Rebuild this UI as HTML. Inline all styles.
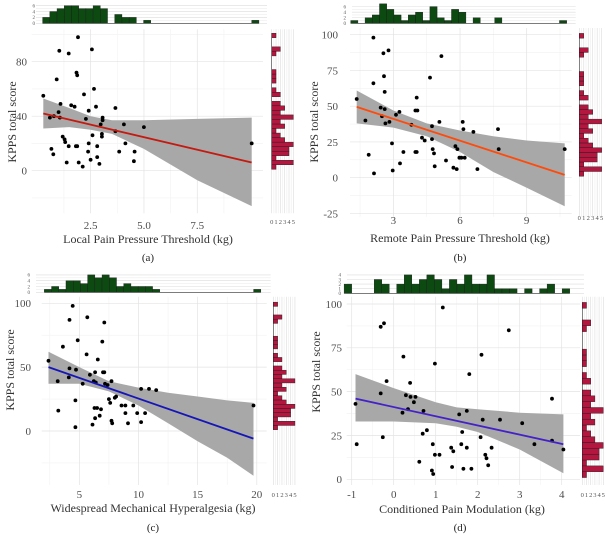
<!DOCTYPE html>
<html><head><meta charset="utf-8">
<style>
html,body{margin:0;padding:0;background:#fff;}
svg{display:block;font-family:"Liberation Serif",serif;}
</style></head>
<body>
<svg id="fig" width="606" height="535" viewBox="0 0 606 535"></svg>
<script>
// ---------- DATA ----------
// shared KPPS marginal histogram (bottom -> top), bins start 1, width 3.33
const kppsBinStart = 1;
const kppsBinWidth = 3.33;
const kppsCounts = [1,5,1,4,4,5,3,2,1,3,2,5,2,3,2,0,2,1,0,1,1,1,0,0,0,1,2,0,0,1];
const histCountTicks = ["0","1","2","3","4","5"];

// Panel a
const aX = [0.28,1.91,1.03,1.47,2.56,1.84,1.87,0.91,2.66,2.19,1.09,1.59,1.75,2.75,3.66,1.0,2.41,0.59,0.78,1.06,2.28,3.06,3.06,4.06,2.97,3.66,5.0,1.19,1.28,1.31,3.03,3.03,2.59,4.13,2.41,10.05,1.47,1.81,1.87,2.81,0.66,0.75,2.38,3.84,4.56,2.81,1.38,1.94,2.5,2.91,4.53,2.13];
const aY = [55,98,88,86,89,72,70,67,60,56,49,48,47,47,46,43,44,39,40,39,38,39,37,34,34,29,32,25,23,21,25,27,26,20,20,20,18,18,18,18,16,12,14,14,14,10,6,6,8,5,7,3];
const aLineX = [0.28,10.05];
const aLineY = [42,6];
const aBandX = [0.28,1.5,2.5,3.5,5,7.5,10.05];
const aBandLo = [31,32,30,27,16,-7,-26];
const aBandHi = [53,46,40,37,37,38,39];
const aHist = [2,4,5,6,6,5,5,6,5,0,3,2,2,0,1,0,0,0,0,0,0,0,0,0,0,0,0,0,0,1];
const aHistStart = 0.25, aHistWidth = 0.338;
const aXTicks = [2.5,5,7.5];
const aXTickLabels = ["2.5","5.0","7.5"];
const aYTicks = [0,40,80];
const aYTickLabels = ["0","40","80"];
const aHistTicks = [0,2,4,6];

// Panel b
const bX = [1.35,1.74,2.1,2.1,1.89,2.13,2.55,2.78,2.58,2.61,2.43,2.49,2.61,2.64,2.82,2.94,2.97,3.12,3.27,3.3,3.45,3.81,3.99,4.08,4.05,3.99,4.05,4.29,4.41,4.65,4.74,4.74,4.77,4.83,4.86,5.07,5.16,5.37,5.7,5.79,5.88,5.85,5.97,6.06,6.21,6.12,6.15,6.6,6.78,7.71,7.74,10.71];
const bY = [55,40,98,66,16,3,87,89,71,60,49,43,48,38,39,24,5,44,46,10,18,37,47,47,56,18,18,28,26,70,36,27,20,17,8,39,85,12,7,22,20,6,14,14,14,39,34,32,6,34,20,20];
const bLineX = [1.35,10.71];
const bLineY = [49.5,2];
const bBandX = [1.35,3,4.5,6,7.5,9,10.71];
const bBandLo = [38,35,29,18,4,-7,-20];
const bBandHi = [61,47,38,33,29,26,24];
const bHist = [1,0,2,3,7,5,3,1,3,4,1,6,2,1,5,4,0,2,0,0,2,0,0,0,0,0,0,0,0,1];
const bHistStart = 1.08, bHistWidth = 0.324;
const bXTicks = [3,6,9];
const bXTickLabels = ["3","6","9"];
const bYTicks = [-25,0,25,50,75,100];
const bYTickLabels = ["-25","0","25","50","75","100"];
const bHistTicks = [0,2,4,6];

// Panel c
const cX = [2.39,4.44,4.17,3.61,3.17,3.22,4.86,4.72,4.11,4.17,4.67,4.67,5.28,5.61,5.67,5.89,6.22,6.39,6.33,6.56,6.94,7.0,7.11,7.11,7.17,7.39,7.5,7.61,7.72,6.5,6.28,6.83,6.33,6.72,6.11,7.72,7.78,8.0,8.11,8.56,8.89,9.56,8.89,9.89,10.56,9.11,10.22,10.22,10.89,11.5,19.72];
const cY = [55,98,87,66,39,16,71,48,42,49,24,3,37,60,89,44,39,38,46,56,70,46,46,85,37,36,25,22,39,18,18,17,10,12,5,8,6,26,27,20,20,20,14,14,14,6,7,33,33,32,20];
const cLineX = [2.39,19.72];
const cLineY = [50,-6];
const cBandX = [2.39,5,7.5,10,12.5,15,17.5,19.72];
const cBandLo = [37,37,31,20,6,-8,-21,-35];
const cBandHi = [62,50,39,34,30,27,24,22];
const cHist = [1,2,1,4,4,3,6,5,6,5,2,3,2,2,2,1,0,0,0,0,0,0,0,0,0,0,0,0,0,1];
const cHistStart = 2.04, cHistWidth = 0.61;
const cXTicks = [5,10,15,20];
const cXTickLabels = ["5","10","15","20"];
const cYTicks = [0,50,100];
const cYTickLabels = ["0","50","100"];
const cHistTicks = [0,2,4,6];

// Panel d
const dX = [-0.91,-0.88,-0.31,-0.23,-0.31,-0.26,-0.17,0.23,0.21,0.29,0.34,0.39,0.40,0.48,0.52,0.61,0.71,0.69,0.79,0.98,0.93,0.91,0.94,0.98,1.09,1.17,1.37,1.42,1.39,1.56,1.63,1.61,1.74,1.74,1.66,1.8,1.85,2.07,2.09,2.12,2.18,2.21,2.25,2.33,2.53,2.74,3.06,3.35,3.77,3.77,4.04];
const dY = [43,20,87,89,49,24,56,70,38,48,40,55,47,44,47,10,39,26,28,66,20,5,3,14,14,98,18,16,7,37,27,20,39,18,6,60,6,24,71,34,14,12,8,18,34,85,32,20,46,22,17];
const dLineX = [-0.91,4.04];
const dLineY = [46,20];
const dBandX = [-0.91,0,1,1.5,2,3,4.04];
const dBandLo = [33,33,32,30,27,17,3.5];
const dBandHi = [60,52,44,41,40,38,37];
const dHist = [2,0,0,0,3,2,0,2,4,2,3,4,3,1,3,2,4,2,2,4,1,1,1,0,1,0,1,2,0,1];
const dHistStart = -1.18, dHistWidth = 0.179;
const dXTicks = [-1,0,1,2,3,4];
const dXTickLabels = ["-1","0","1","2","3","4"];
const dYTicks = [0,25,50,75,100];
const dYTickLabels = ["0","25","50","75","100"];
const dHistTicks = [0,1,2,3,4];

// ---------- LAYOUT (geometry only) ----------
const NS = "http://www.w3.org/2000/svg";
const svg = document.getElementById('fig');
function mk(tag, attrs, parent){
  const e = document.createElementNS(NS, tag);
  for (const k in attrs) e.setAttribute(k, attrs[k]);
  (parent||svg).appendChild(e);
  return e;
}

const panels = [
 {id:'a', X:aX,Y:aY,lx:aLineX,ly:aLineY,bx:aBandX,blo:aBandLo,bhi:aBandHi,hist:aHist,hs:aHistStart,hw:aHistWidth,
  xt:aXTicks,xtl:aXTickLabels,yt:aYTicks,ytl:aYTickLabels,ht:aHistTicks,
  xo:37.3,xu:21.33,yo:170.7,yu:1.3625,L:31.7,R:263,T:29.3,B:213.3,
  hBase:23.3,hUnit:2.94,hL:32,rBase:271.7,rUnit:4.33,rR:297,
  color:'#c41a10', yLabX:27, xLabY:229, yTitleX:12, yTitleY:122, xTitle:'Local Pain Pressure Threshold (kg)', xTitleX:148, xTitleY:243, cap:'(a)', capY:261, capX:148, hLabX:35, rLabY:224},
 {id:'b', X:bX,Y:bY,lx:bLineX,ly:bLineY,bx:bBandX,blo:bBandLo,bhi:bBandHi,hist:bHist,hs:bHistStart,hw:bHistWidth,
  xt:bXTicks,xtl:bXTickLabels,yt:bYTicks,ytl:bYTickLabels,ht:bHistTicks,
  xo:326.7,xu:22.22,yo:177.7,yu:1.43,L:350,R:571.7,T:28,B:216.7,
  hBase:23.3,hUnit:2.78,hL:348,rBase:579.3,rUnit:4.47,rR:604,
  color:'#ff4a0a', yLabX:338, xLabY:224, yTitleX:314, yTitleY:122, xTitle:'Remote Pain Pressure Threshold (kg)', xTitleX:460, xTitleY:242, cap:'(b)', capY:261, capX:460, hLabX:346, rLabY:220},
 {id:'c', X:cX,Y:cY,lx:cLineX,ly:cLineY,bx:cBandX,blo:cBandLo,bhi:cBandHi,hist:cHist,hs:cHistStart,hw:cHistWidth,
  xt:cXTicks,xtl:cXTickLabels,yt:cYTicks,ytl:cYTickLabels,ht:cHistTicks,
  xo:20.2,xu:11.83,yo:431,yu:1.277,L:41.7,R:266.7,T:296.7,B:485,
  hBase:292.3,hUnit:2.9,hL:32,rBase:273.3,rUnit:4.33,rR:298,
  color:'#1616b8', yLabX:31, xLabY:498, yTitleX:10, yTitleY:370, xTitle:'Widespread Mechanical Hyperalgesia (kg)', xTitleX:153, xTitleY:512, cap:'(c)', capY:531, capX:153, hLabX:30, rLabY:497},
 {id:'d', X:dX,Y:dY,lx:dLineX,ly:dLineY,bx:dBandX,blo:dBandLo,bhi:dBandHi,hist:dHist,hs:dHistStart,hw:dHistWidth,
  xt:dXTicks,xtl:dXTickLabels,yt:dYTicks,ytl:dYTickLabels,ht:dHistTicks,
  xo:393.7,xu:42,yo:479.3,yu:1.753,L:346.7,R:580,T:296.7,B:485,
  hBase:293.3,hUnit:4.6,hL:343,rBase:582.3,rUnit:4.2,rR:606,
  color:'#4322c8', yLabX:342, xLabY:498, yTitleX:316, yTitleY:372, xTitle:'Conditioned Pain Modulation (kg)', xTitleX:462, xTitleY:513, cap:'(d)', capY:531, capX:460, hLabX:341, rLabY:497}
];

panels.forEach(p => {
  const sx = v => p.xo + v*p.xu;
  const sy = v => p.yo - v*p.yu;
  const g = mk('g', {});
  
  

  // grid: minor then major
  const gg = mk('g', {}, g);
  
  
  const xstep = p.xt[1]-p.xt[0], ystep = p.yt.length>1 ? p.yt[1]-p.yt[0] : 1;
  for (let v = p.xt[0]-xstep*3; v <= p.xt[p.xt.length-1]+xstep*3; v += xstep){
    const m = v + xstep/2;
    [m].forEach(q=>{ const X=sx(q); if (X>p.L && X<p.R) mk('line',{x1:X,x2:X,y1:p.T,y2:p.B,stroke:'#f2f2f2','stroke-width':0.6},gg); });
  }
  for (let v = p.yt[0]-ystep*3; v <= p.yt[p.yt.length-1]+ystep*3; v += ystep){
    const Y=sy(v+ystep/2); if (Y>p.T && Y<p.B) mk('line',{x1:p.L,x2:p.R,y1:Y,y2:Y,stroke:'#f2f2f2','stroke-width':0.6},gg);
  }
  p.xt.forEach(v=>{ const X=sx(v); mk('line',{x1:X,x2:X,y1:p.T,y2:p.B,stroke:'#e3e3e3','stroke-width':0.7},gg); });
  p.yt.forEach(v=>{ const Y=sy(v); mk('line',{x1:p.L,x2:p.R,y1:Y,y2:Y,stroke:'#e3e3e3','stroke-width':0.7},gg); });

  // band
  let d = '';
  p.bx.forEach((v,i)=>{ d += (i?'L':'M') + sx(v).toFixed(1) + ',' + sy(p.bhi[i]).toFixed(1); });
  for (let i=p.bx.length-1;i>=0;i--) d += 'L' + sx(p.bx[i]).toFixed(1) + ',' + sy(p.blo[i]).toFixed(1);
  d += 'Z';
  const band = mk('path',{d:d,fill:'#a3a3a3','fill-opacity':0.95},g);
  
  

  // points
  const pg = mk('g', {}, g);
  
  
  p.X.forEach((v,i)=>{
    const c = mk('circle',{cx:sx(v).toFixed(1),cy:sy(p.Y[i]).toFixed(1),r:1.9,fill:'#000'},pg);
    
    
  });

  // regression line
  const ln = mk('line',{x1:sx(p.lx[0]),y1:sy(p.ly[0]),x2:sx(p.lx[1]),y2:sy(p.ly[1]),stroke:p.color,'stroke-width':1.8},g);
  
  

  // tick labels
  p.xt.forEach((v,i)=>{
    const t = mk('text',{x:sx(v),y:p.xLabY,'font-size':11,fill:'#4d4d4d','text-anchor':'middle'},g);
    t.textContent = p.xtl[i];
    
    
  });
  p.yt.forEach((v,i)=>{
    const t = mk('text',{x:p.yLabX,y:sy(v)+3.8,'font-size':11,fill:'#4d4d4d','text-anchor':'end'},g);
    t.textContent = p.ytl[i];
    
    
  });

  // titles
  const xt = mk('text',{x:p.xTitleX,y:p.xTitleY,'font-size':12,fill:'#333','text-anchor':'middle'},g);
  xt.textContent = p.xTitle;
  
  
  const yt = mk('text',{x:0,y:0,'font-size':12,fill:'#333','text-anchor':'middle',transform:'translate('+(p.yTitleX+4)+','+p.yTitleY+') rotate(-90)'},g);
  yt.textContent = 'KPPS total score';
  
  
  const cap = mk('text',{x:p.capX,y:p.capY,'font-size':11,fill:'#222','text-anchor':'middle'},g);
  cap.textContent = p.cap;
  
  

  // top histogram
  const th = mk('g', {}, g);
  
  
  const hmax = p.ht[p.ht.length-1];
  for (let k=0;k<=hmax;k++){
    const Y = p.hBase - k*p.hUnit;
    mk('line',{x1:p.hL+4,x2:p.R+4,y1:Y,y2:Y,stroke: (k%2===0||hmax<5)?'#dcdcdc':'#eeeeee','stroke-width':0.6},th);
  }
  p.ht.forEach(k=>{
    const t = mk('text',{x:p.hLabX,y:p.hBase - k*p.hUnit + 1.8,'font-size':5,fill:'#555','text-anchor':'end'},th);
    t.textContent = String(k);
    
    
  });
  mk('line',{x1:sx(p.hs),x2:sx(p.hs+p.hw*p.hist.length),y1:p.hBase,y2:p.hBase,stroke:'#333','stroke-width':0.6},th);
  p.hist.forEach((c,i)=>{
    if (!c) return;
    const x0 = sx(p.hs + i*p.hw), x1 = sx(p.hs + (i+1)*p.hw);
    const r = mk('rect',{x:x0,y:p.hBase-c*p.hUnit,width:x1-x0,height:c*p.hUnit,fill:'#0d4a12',stroke:'#1a1a1a','stroke-width':0.4},th);
    
    
  });

  // right histogram
  const rh = mk('g', {}, g);
  
  
  for (let k=0;k<=5;k+=0.5){
    const X = p.rBase + k*p.rUnit;
    mk('line',{x1:X,x2:X,y1:p.T,y2:p.B,stroke: (k%1===0)?'#dcdcdc':'#eeeeee','stroke-width':0.6},rh);
  }
  histCountTicks.forEach((lab,k)=>{
    const t = mk('text',{x:p.rBase + k*p.rUnit,y:p.rLabY,'font-size':6.5,fill:'#555','text-anchor':'middle'},rh);
    t.textContent = lab;
    
    
  });
  mk('line',{x1:p.rBase,x2:p.rBase,y1:sy(kppsBinStart+kppsBinWidth*kppsCounts.length),y2:sy(kppsBinStart),stroke:'#333','stroke-width':0.6},rh);
  kppsCounts.forEach((c,i)=>{
    if (!c) return;
    const yTop = sy(kppsBinStart + (i+1)*kppsBinWidth), yBot = sy(kppsBinStart + i*kppsBinWidth);
    const r = mk('rect',{x:p.rBase,y:yTop,width:c*p.rUnit,height:yBot-yTop,fill:'#b3163f',stroke:'#1a1a1a','stroke-width':0.4},rh);
    
    
  });
});
</script>
</body></html>
